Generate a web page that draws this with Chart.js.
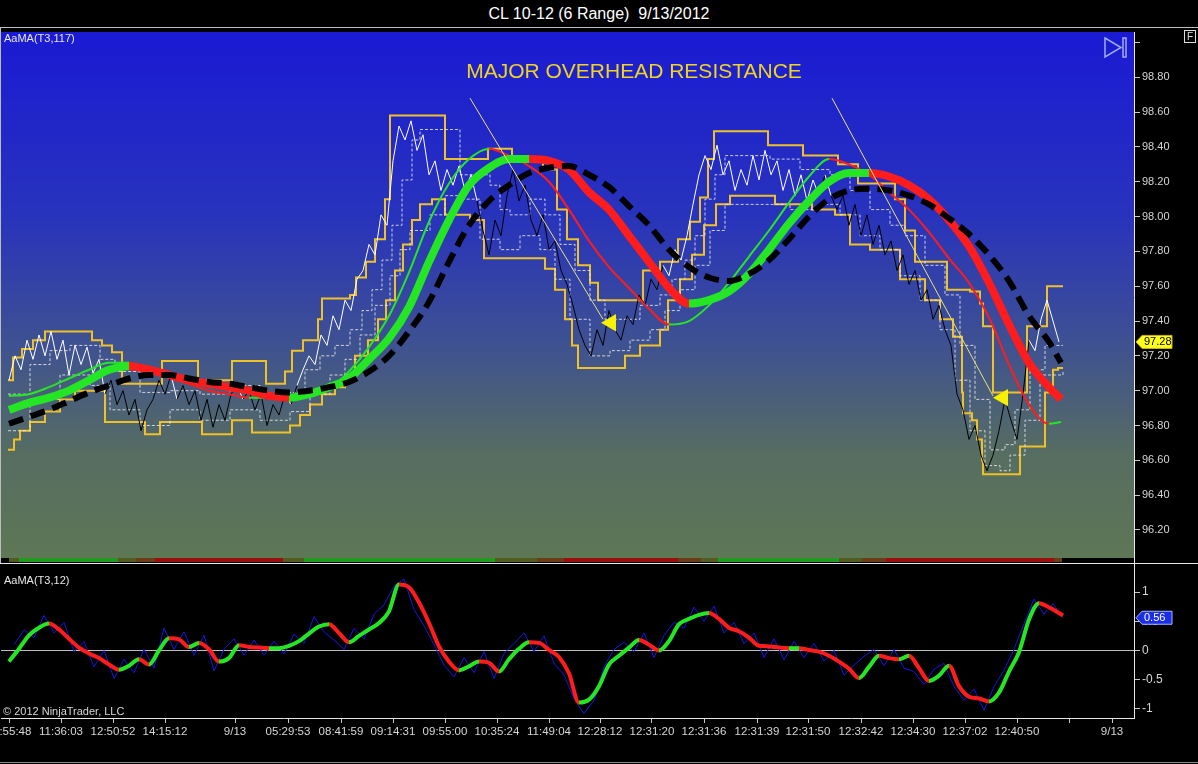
<!DOCTYPE html>
<html>
<head>
<meta charset="utf-8">
<script src="https://cdn.jsdelivr.net/npm/chart.js@4.4.1/dist/chart.umd.min.js"></script>
<style>
html, body { margin: 0; padding: 0; background: #000; overflow: hidden; }
body { width: 1198px; height: 764px; position: relative; font-family: "Liberation Sans", Arial, sans-serif; }
#title { position: absolute; left: 0; top: 0; width: 1198px; height: 27px; line-height: 27px; text-align: center; color: #fff; font-size: 16px; }
.hl { position: absolute; left: 0; width: 1198px; height: 1px; }
canvas { position: absolute; left: 0; }
#fbox { position: absolute; left: 1184px; top: 30px; width: 10px; height: 11px; border: 1px solid #ddd; color: #ddd; font-size: 10px; line-height: 11px; text-align: center; }
#lborder { position: absolute; left: 0; top: 28px; width: 1px; height: 535px; background: #bdbdbd; }
</style>
</head>
<body>
<div id="title">CL 10-12 (6 Range)&nbsp; 9/13/2012</div>
<div class="hl" style="top:27px;background:#bdbdbd"></div>
<canvas id="main" width="1198" height="535" style="top:28px"></canvas>
<div class="hl" style="top:563px;background:#e6e6e6"></div>
<canvas id="osc" width="1198" height="198" style="top:564px"></canvas>
<div class="hl" style="top:762px;background:#8a8a8a"></div>
<div id="lborder"></div>
<div id="fbox">F</div>
<script>
// x is the bar number counted from the left edge of the chart
var xMax = 1133;

var timeTickBars = [8, 60, 112, 164, 234, 287, 340, 392, 444, 496, 548, 599, 651, 703, 756, 807, 860, 912, 964, 1016, 1068, 1111];
var timeTickLabels = ["10:55:48", "11:36:03", "12:50:52", "14:15:12", "9/13", "05:29:53", "08:41:59", "09:14:31", "09:55:00",
    "10:35:24", "11:49:04", "12:28:12", "12:31:20", "12:31:36", "12:31:39", "12:31:50", "12:32:42", "12:34:30",
    "12:37:02", "12:40:50", "", "9/13"];

var priceTicks = [96.2, 96.4, 96.6, 96.8, 97.0, 97.2, 97.4, 97.6, 97.8, 98.0, 98.2, 98.4, 98.6, 98.8, 99.0];
var oscTicks = [-1, -0.5, 0, 0.5, 1];

// closes, one every 6 bars starting at bar 8
var priceStart = 8, priceStep = 6;
var priceClose = [
    97.06, 97.20, 97.12, 97.29, 97.18, 97.32, 97.20, 97.34, 97.18, 97.29, 97.09, 97.26, 97.15, 97.25, 97.10, 97.18,
    96.98, 97.06, 96.92, 97.00, 96.86, 96.95, 96.77, 96.89, 96.95, 97.06, 96.98, 97.09, 96.95, 97.03, 96.92, 97.00,
    96.83, 96.95, 96.79, 96.92, 96.83, 96.98, 97.03, 96.95, 97.00, 96.89, 96.98, 96.80, 96.92, 96.86, 96.98, 96.92, 97.03,
    97.12, 97.20, 97.15, 97.32, 97.26, 97.43, 97.35, 97.52, 97.46, 97.64, 97.69, 97.84, 97.78, 98.01, 97.95, 98.32,
    98.52, 98.44, 98.55, 98.38, 98.47, 98.24, 98.32, 98.15, 98.27, 98.18, 98.29, 98.15, 98.24, 98.09,
    97.92, 97.78, 97.98, 97.89, 98.12, 98.27, 98.09, 98.18, 97.98, 97.89, 98.01, 97.81, 97.86, 97.69, 97.61, 97.49,
    97.35, 97.26, 97.20, 97.35, 97.26, 97.46, 97.35, 97.29, 97.43, 97.38, 97.55, 97.49, 97.64, 97.58, 97.72,
    97.66, 97.81, 97.75, 97.89, 98.07, 98.24, 98.35, 98.27, 98.41, 98.24, 98.32, 98.15, 98.27, 98.18, 98.35, 98.21,
    98.38, 98.24, 98.32, 98.15, 98.27, 98.12, 98.24, 98.09, 98.21, 98.12, 98.24, 98.12,
    98.04, 98.12, 97.95, 98.07, 97.89, 98.01, 97.84, 97.95, 97.78, 97.86, 97.69, 97.78, 97.61, 97.69, 97.52, 97.58,
    97.41, 97.49, 97.35, 97.26, 96.98, 96.89, 96.72, 96.80, 96.63, 96.54, 96.63, 96.77, 96.95, 96.83, 96.72, 96.98, 97.29,
    97.23, 97.41, 97.52, 97.40, 97.28
];

// channel (stepped)
var upperBars = [7, 12, 21, 32, 44, 91, 101, 111, 121, 161, 197, 231, 265, 284, 291, 302, 317, 321, 349, 355,
    365, 374, 384, 389, 444, 487, 511, 542, 556, 566, 577, 589, 597, 642, 659, 677, 689, 699, 707, 713,
    767, 802, 837, 857, 894, 904, 914, 946, 969, 979, 982, 992, 1026, 1046, 1062];
var upperVals = [97.06, 97.19, 97.24, 97.29, 97.34, 97.29, 97.26, 97.22, 97.04, 97.17, 97.06, 97.17, 97.04, 97.11, 97.23, 97.29, 97.41, 97.53, 97.55, 97.65,
    97.74, 97.87, 98.10, 98.58, 98.33, 98.39, 98.34, 98.27, 98.04, 97.87, 97.72, 97.62, 97.52, 97.69, 97.74, 97.87, 97.97, 98.11, 98.33, 98.49,
    98.41, 98.35, 98.30, 98.19, 98.10, 97.92, 97.74, 97.58, 97.57, 97.50, 97.37, 96.99, 97.37, 97.60, 97.60];
var lowerBars = [7, 13, 19, 29, 44, 59, 74, 104, 144, 159, 201, 231, 251, 289, 299, 309, 321, 334, 344, 354,
    367, 377, 385, 394, 402, 411, 419, 431, 444, 469, 483, 544, 554, 564, 571, 577, 624, 639, 659, 667,
    679, 691, 703, 715, 729, 774, 811, 834, 849, 869, 899, 914, 924, 939, 952, 961, 962, 971, 976, 981,
    982, 1019, 1044, 1052, 1057, 1062];
var lowerVals = [96.66, 96.72, 96.77, 96.82, 96.88, 96.95, 97.00, 96.82, 96.75, 96.82, 96.75, 96.83, 96.76, 96.80, 96.86, 96.92, 96.98, 97.02, 97.09, 97.20,
    97.29, 97.41, 97.52, 97.69, 97.84, 97.98, 98.07, 98.10, 98.01, 97.98, 97.76, 97.70, 97.58, 97.41, 97.26, 97.13, 97.20, 97.26, 97.35, 97.52,
    97.64, 97.78, 97.95, 98.07, 98.12, 98.07, 98.04, 98.01, 97.84, 97.81, 97.64, 97.64, 97.52, 97.41, 97.31, 96.99, 96.87, 96.83, 96.72, 96.60,
    96.52, 96.68, 96.99, 97.12, 97.13, 97.13];
var innerHiBars = [7, 29, 49, 69, 99, 114, 139, 169, 199, 229, 259, 289, 304, 319, 334, 349, 361, 371, 381, 391,
    401, 411, 419, 449, 459, 489, 499, 509, 529, 544, 559, 574, 589, 604, 639, 659, 671, 684, 694, 704,
    714, 724, 769, 799, 829, 849, 869, 889, 904, 924, 944, 959, 974, 989, 1004, 1014, 1029, 1044, 1062];
var innerHiVals = [96.98, 97.15, 97.23, 97.26, 97.18, 97.11, 96.99, 97.00, 96.98, 97.03, 96.98, 96.99, 97.12, 97.20, 97.26, 97.35, 97.46, 97.58, 97.75, 97.95,
    98.21, 98.44, 98.50, 98.50, 98.24, 98.18, 98.04, 98.01, 98.10, 98.01, 97.84, 97.69, 97.52, 97.41, 97.49, 97.55, 97.64, 97.75, 97.89, 98.10,
    98.24, 98.35, 98.33, 98.27, 98.24, 98.15, 98.04, 97.95, 97.89, 97.72, 97.55, 97.26, 96.95, 96.66, 96.69, 96.89, 97.12, 97.26, 97.26];
var innerLoBars = [7, 29, 59, 89, 109, 139, 169, 199, 229, 259, 289, 309, 329, 344, 359, 374, 389, 399, 409, 429,
    444, 459, 479, 499, 519, 539, 554, 569, 589, 609, 629, 649, 664, 679, 694, 709, 724, 759, 789, 819,
    839, 859, 879, 899, 919, 939, 954, 969, 984, 999, 1009, 1024, 1039, 1062];
var innerLoVals = [96.77, 96.95, 97.09, 97.03, 96.89, 96.80, 96.89, 96.83, 96.89, 96.83, 96.88, 96.98, 97.09, 97.18, 97.32, 97.49, 97.66, 97.81, 97.92, 98.01,
    98.12, 98.10, 97.87, 97.81, 97.89, 97.81, 97.64, 97.41, 97.20, 97.23, 97.29, 97.35, 97.46, 97.58, 97.72, 97.92, 98.07, 98.07, 98.04, 98.07,
    98.01, 97.89, 97.81, 97.66, 97.52, 97.35, 97.06, 96.77, 96.57, 96.54, 96.63, 96.83, 97.09, 97.11];

// moving averages
var maBars = [8, 28, 48, 68, 88, 108, 128, 148, 168, 188, 208, 228, 248, 268, 288, 308, 328, 348, 368, 388,
    408, 428, 448, 468, 488, 508, 528, 548, 568, 588, 608, 628, 648, 668, 688, 708, 728, 748, 768, 788,
    808, 828, 848, 868, 888, 908, 928, 948, 968, 988, 1008, 1028, 1048, 1060];
var maSlow117 = [96.89, 96.93, 96.96, 97.00, 97.06, 97.12, 97.14, 97.12, 97.09, 97.06, 97.04, 97.02, 97.00, 96.97, 96.96, 96.98, 97.02, 97.07, 97.18, 97.30,
    97.48, 97.74, 97.98, 98.18, 98.28, 98.33, 98.33, 98.32, 98.27, 98.14, 98.04, 97.89, 97.74, 97.59, 97.50, 97.52, 97.57, 97.67, 97.81, 97.96,
    98.09, 98.20, 98.25, 98.25, 98.23, 98.18, 98.10, 97.98, 97.83, 97.62, 97.38, 97.16, 97.02, 96.95];
var maFast = [96.97, 96.98, 97.02, 97.07, 97.12, 97.16, 97.16, 97.12, 97.08, 97.04, 97.00, 96.98, 96.96, 96.96, 96.96, 96.98, 97.01, 97.11, 97.25, 97.43,
    97.68, 97.97, 98.19, 98.33, 98.39, 98.35, 98.29, 98.20, 98.04, 97.86, 97.71, 97.59, 97.47, 97.38, 97.40, 97.49, 97.62, 97.77, 97.92, 98.08,
    98.23, 98.33, 98.30, 98.24, 98.14, 98.04, 97.91, 97.76, 97.62, 97.42, 97.15, 96.92, 96.81, 96.82];
var maLag = [96.81, 96.85, 96.89, 96.94, 96.99, 97.03, 97.07, 97.09, 97.09, 97.07, 97.05, 97.04, 97.02, 97.00, 96.99, 97.00, 97.02, 97.05, 97.11, 97.20,
    97.34, 97.51, 97.74, 97.95, 98.09, 98.18, 98.25, 98.28, 98.29, 98.24, 98.17, 98.06, 97.95, 97.81, 97.71, 97.65, 97.63, 97.67, 97.75, 97.87,
    98.00, 98.10, 98.15, 98.16, 98.15, 98.12, 98.07, 97.99, 97.90, 97.78, 97.63, 97.43, 97.28, 97.16];

// hand drawn trend lines and arrows
var trendA = { bars: [469, 602], vals: [98.68, 97.41] };
var trendB = { bars: [831, 992], vals: [98.68, 96.97] };
var arrowBars = [610, 1002];
var arrowVals = [97.39, 96.96];

// trend strip under the price panel
var stripBars = [0, 8, 18, 117, 135, 154, 282, 303, 494, 536, 563, 677, 700, 717, 838, 861, 885, 1053, 1061];
var stripState = ['none', 'flat', 'up', 'flat', 'weak', 'down', 'flat', 'up', 'flat', 'weak', 'down', 'weak', 'flat', 'up', 'flat', 'weak', 'down', 'weak', 'none'];

// AaMA(T3,12) oscillator
var oscBars = [8, 18, 28, 38, 48, 58, 68, 78, 88, 98, 108, 118, 128, 138, 148, 158, 168, 178, 188, 198,
    208, 218, 228, 238, 248, 258, 268, 278, 288, 298, 308, 318, 328, 338, 348, 358, 368, 378, 388, 398,
    408, 418, 428, 438, 448, 458, 468, 478, 488, 498, 508, 518, 528, 538, 548, 558, 568, 578, 588, 598,
    608, 618, 628, 638, 648, 658, 668, 678, 688, 698, 708, 718, 728, 738, 748, 758, 768, 778, 788, 798,
    808, 818, 828, 838, 848, 858, 868, 878, 888, 898, 908, 918, 928, 938, 948, 958, 968, 978, 988, 998,
    1008, 1018, 1028, 1038, 1048, 1058, 1062];
var oscSmooth = [-0.19, 0.03, 0.26, 0.39, 0.46, 0.36, 0.20, 0.05, -0.05, -0.13,
    -0.24, -0.33, -0.26, -0.15, -0.24, 0.00, 0.21, 0.19, 0.06, 0.13,
    0.02, -0.19, -0.13, 0.09, 0.06, 0.05, 0.04, 0.04, 0.08, 0.16,
    0.29, 0.41, 0.45, 0.30, 0.14, 0.25, 0.36, 0.47, 0.67, 1.13,
    1.08, 0.82, 0.47, 0.07, -0.19, -0.34, -0.27, -0.19, -0.21, -0.36,
    -0.15, 0.03, 0.14, 0.13, 0.01, -0.11, -0.39, -0.89, -0.84, -0.61,
    -0.24, -0.09, 0.05, 0.18, 0.10, 0.00, 0.16, 0.45, 0.54, 0.61,
    0.64, 0.54, 0.39, 0.33, 0.22, 0.08, 0.07, 0.05, 0.04, 0.04,
    0.01, -0.02, -0.09, -0.19, -0.31, -0.47, -0.28, -0.09, -0.13, -0.15,
    -0.09, -0.30, -0.52, -0.43, -0.26, -0.61, -0.79, -0.82, -0.87, -0.72,
    -0.36, -0.03, 0.53, 0.81, 0.74, 0.64, 0.60];
var oscRawBars = [13, 23, 33, 43, 53, 63, 73, 83, 93, 103, 113, 123, 133, 143, 153, 163, 173, 183, 193, 203,
    213, 223, 233, 243, 253, 263, 273, 283, 293, 303, 313, 323, 333, 343, 353, 363, 373, 383, 393, 403,
    413, 423, 433, 443, 453, 463, 473, 483, 493, 503, 513, 523, 533, 543, 553, 563, 573, 583, 593, 603,
    613, 623, 633, 643, 653, 663, 673, 683, 693, 703, 713, 723, 733, 743, 753, 763, 773, 783, 793, 803,
    813, 823, 833, 843, 853, 863, 873, 883, 893, 903, 913, 923, 933, 943, 953, 963, 973, 983, 993, 1003,
    1013, 1023, 1033, 1043, 1052, 1062];
var oscRaw = [0.10, 0.35, 0.22, 0.60, 0.30, 0.48, -0.02, 0.15, -0.28, 0.00,
    -0.48, -0.15, -0.38, 0.02, -0.30, 0.38, 0.02, 0.32, -0.08, 0.26,
    -0.35, 0.02, 0.20, -0.08, 0.18, -0.08, 0.16, -0.06, 0.28, 0.12,
    0.58, 0.32, 0.18, 0.02, 0.38, 0.20, 0.62, 0.78, 1.10, 1.22,
    0.70, 0.42, 0.10, -0.25, -0.45, -0.12, -0.38, -0.02, -0.48, -0.05,
    0.12, 0.30, -0.02, 0.25, -0.22, -0.42, -0.82, -1.08, -0.85, -0.28,
    0.02, 0.14, -0.02, 0.30, -0.12, 0.26, 0.48, 0.38, 0.74, 0.50,
    0.76, 0.30, 0.48, 0.12, 0.30, -0.12, 0.20, -0.16, 0.16, -0.12,
    0.12, -0.18, 0.00, -0.42, -0.25, -0.10, 0.02, -0.26, 0.02, -0.30,
    -0.36, -0.58, -0.32, -0.22, -0.62, -0.85, -0.66, -1.02, -0.62, -0.34,
    0.02, 0.46, 0.88, 0.62, 0.80, 0.56];

var FONT = '"Liberation Sans", Arial, sans-serif';
Chart.defaults.font.family = FONT;

var UP = '#25e625', DOWN = '#ff1c1c';
var stripColors = { none: '#000000', flat: '#525c1e', weak: '#6c3c14', up: '#1f9c1f', down: '#9a0e0e' };

function pts(bars, vals) {
    return bars.map(function (b, i) { return { x: b, y: vals[i] }; });
}
function slopeColor(ctx) {
    return ctx.p1.parsed.y >= ctx.p0.parsed.y ? UP : DOWN;
}
function maAt(bar) {
    for (var i = 1; i < maBars.length; i++) {
        if (bar <= maBars[i]) {
            var t = (bar - maBars[i - 1]) / (maBars[i] - maBars[i - 1]);
            return maSlow117[i - 1] + t * (maSlow117[i] - maSlow117[i - 1]);
        }
    }
    return maSlow117[maSlow117.length - 1];
}
function noPad(s) {
    s.paddingTop = 0; s.paddingBottom = 0; s.paddingLeft = 0; s.paddingRight = 0;
}

var priceBars = priceClose.map(function (v, i) { return priceStart + i * priceStep; });
// close above the AaMA(117) paints white, below paints black
var priceAbove = priceClose.map(function (v, i) { return v > maAt(priceBars[i]); });

function drawTag(ctx, x, y, text, fill, stroke, color) {
    ctx.beginPath();
    ctx.moveTo(x, y);
    ctx.lineTo(x + 6, y - 6.5);
    ctx.lineTo(x + 36, y - 6.5);
    ctx.lineTo(x + 36, y + 6.5);
    ctx.lineTo(x + 6, y + 6.5);
    ctx.closePath();
    ctx.fillStyle = fill;
    ctx.fill();
    ctx.strokeStyle = stroke;
    ctx.lineWidth = 1;
    ctx.stroke();
    ctx.fillStyle = color;
    ctx.font = '11px ' + FONT;
    ctx.textAlign = 'left';
    ctx.textBaseline = 'middle';
    ctx.fillText(text, x + 8, y + 0.5);
}

var mainDecor = {
    id: 'mainDecor',
    beforeDraw: function (chart) {
        var a = chart.chartArea, ctx = chart.ctx, xs = chart.scales.x;
        var g = ctx.createLinearGradient(0, a.top, 0, a.bottom - 4);
        g.addColorStop(0, '#1a1ad4');
        g.addColorStop(0.35, '#2833bc');
        g.addColorStop(0.6, '#3f5290');
        g.addColorStop(0.8, '#566d62');
        g.addColorStop(1, '#5e7755');
        ctx.save();
        ctx.fillStyle = g;
        ctx.fillRect(a.left, a.top, a.right - a.left, a.bottom - 4 - a.top);
        for (var i = 0; i < stripBars.length; i++) {
            var x0 = xs.getPixelForValue(stripBars[i]);
            var x1 = i + 1 < stripBars.length ? xs.getPixelForValue(stripBars[i + 1]) : a.right;
            ctx.fillStyle = stripColors[stripState[i]];
            ctx.fillRect(x0, a.bottom - 4, x1 - x0, 4);
        }
        ctx.restore();
    },
    afterDraw: function (chart) {
        var a = chart.chartArea, ctx = chart.ctx;
        ctx.save();
        ctx.font = '11px ' + FONT;
        ctx.fillStyle = '#e6e6e6';
        ctx.textAlign = 'left';
        ctx.textBaseline = 'middle';
        ctx.fillText('AaMA(T3,117)', 4, 11);
        ctx.font = '21px ' + FONT;
        ctx.fillStyle = '#f0d41e';
        ctx.textAlign = 'center';
        ctx.fillText('MAJOR OVERHEAD RESISTANCE', 634, 44);
        ctx.strokeStyle = '#a3acf0';
        ctx.lineWidth = 1.5;
        ctx.beginPath();
        ctx.moveTo(a.right - 29, 10);
        ctx.lineTo(a.right - 13, 19.5);
        ctx.lineTo(a.right - 29, 29);
        ctx.closePath();
        ctx.stroke();
        ctx.strokeRect(a.right - 11, 10, 3, 19);
        var last = priceClose[priceClose.length - 1];
        drawTag(ctx, a.right + 2, chart.scales.y.getPixelForValue(last), last.toFixed(2), '#ffff1e', '#c8b400', '#000');
        ctx.restore();
    }
};

var oscDecor = {
    id: 'oscDecor',
    afterDraw: function (chart) {
        var a = chart.chartArea, ctx = chart.ctx;
        ctx.save();
        ctx.font = '11px ' + FONT;
        ctx.fillStyle = '#e6e6e6';
        ctx.textAlign = 'left';
        ctx.textBaseline = 'middle';
        ctx.fillText('AaMA(T3,12)', 4, 17);
        ctx.fillStyle = '#d8d8d8';
        ctx.fillText('\u00a9 2012 NinjaTrader, LLC', 3, 148);
        var last = oscRaw[oscRaw.length - 1];
        drawTag(ctx, a.right + 2, chart.scales.y.getPixelForValue(last), last.toFixed(2), '#1a2ee6', '#aab4ff', '#fff');
        ctx.restore();
    }
};

new Chart(document.getElementById('main'), {
    type: 'line',
    data: {
        datasets: [
            { data: pts(upperBars, upperVals), stepped: true, borderColor: '#efc128', borderWidth: 2, order: 10 },
            { data: pts(lowerBars, lowerVals), stepped: true, borderColor: '#efc128', borderWidth: 2, order: 10 },
            { data: pts(innerHiBars, innerHiVals), stepped: true, borderColor: 'rgba(235,235,235,0.85)', borderWidth: 1, borderDash: [3, 2], order: 9 },
            { data: pts(innerLoBars, innerLoVals), stepped: true, borderColor: 'rgba(235,235,235,0.85)', borderWidth: 1, borderDash: [3, 2], order: 9 },
            { data: pts(priceBars, priceClose), borderWidth: 1, borderColor: '#fff', order: 8,
              segment: { borderColor: function (ctx) { return priceAbove[ctx.p0DataIndex] ? '#ffffff' : '#000000'; } } },
            { data: pts(maBars, maFast), borderWidth: 2, cubicInterpolationMode: 'monotone', order: 7, borderColor: UP,
              segment: { borderColor: slopeColor } },
            { data: pts(maBars, maSlow117), borderWidth: 8, cubicInterpolationMode: 'monotone', order: 6, borderColor: UP,
              borderJoinStyle: 'round', segment: { borderColor: slopeColor } },
            { data: pts(maBars, maLag), borderWidth: 6, cubicInterpolationMode: 'monotone', order: 5, borderColor: '#000',
              borderDash: [15, 8] },
            { data: pts(trendA.bars, trendA.vals), borderWidth: 1, borderColor: '#e8e27a', order: 3 },
            { data: pts(trendB.bars, trendB.vals), borderWidth: 1, borderColor: '#e8e27a', order: 3 },
            { data: pts(arrowBars, arrowVals), showLine: false, pointStyle: 'triangle', rotation: 270, pointRadius: 10,
              backgroundColor: '#f7f000', borderWidth: 0, order: 2 }
        ]
    },
    options: {
        responsive: false,
        animation: false,
        events: [],
        layout: { autoPadding: false, padding: { left: 1, top: 4, bottom: 1, right: 0 } },
        plugins: { legend: { display: false }, tooltip: { enabled: false } },
        elements: { point: { radius: 0 } },
        scales: {
            x: { type: 'linear', min: 0, max: xMax, display: false },
            y: {
                position: 'right', min: 96.016, max: 99.06,
                afterFit: function (s) { s.width = 64; noPad(s); },
                afterBuildTicks: function (s) { s.ticks = priceTicks.map(function (v) { return { value: v }; }); },
                ticks: { color: '#d6d6d6', font: { size: 11 }, padding: 2,
                         callback: function (v) { return v > 98.9 ? '' : v.toFixed(2); } },
                grid: { drawOnChartArea: false, tickLength: 6, color: '#c8c8c8' },
                border: { color: '#e6e6e6' }
            }
        }
    },
    plugins: [mainDecor]
});

new Chart(document.getElementById('osc'), {
    type: 'line',
    data: {
        datasets: [
            { data: pts(oscBars, oscSmooth), borderWidth: 4, cubicInterpolationMode: 'monotone', borderColor: UP,
              borderJoinStyle: 'round', segment: { borderColor: slopeColor }, order: 1 },
            { data: pts(oscRawBars, oscRaw), borderWidth: 1, borderColor: '#1616e6', order: 2 }
        ]
    },
    options: {
        responsive: false,
        animation: false,
        events: [],
        layout: { autoPadding: false, padding: { left: 1, top: 0, bottom: 0, right: 0 } },
        plugins: { legend: { display: false }, tooltip: { enabled: false } },
        elements: { point: { radius: 0 } },
        scales: {
            x: {
                type: 'linear', min: 0, max: xMax,
                afterFit: function (s) { s.height = 44; noPad(s); },
                afterBuildTicks: function (s) { s.ticks = timeTickBars.map(function (v) { return { value: v }; }); },
                ticks: { autoSkip: false, maxRotation: 0, minRotation: 0, color: '#d6d6d6', font: { size: 11.5 }, padding: 2,
                         callback: function (v, i) { return timeTickLabels[i]; } },
                grid: { drawOnChartArea: false, tickLength: 5, color: '#c8c8c8' },
                border: { color: '#e6e6e6' }
            },
            y: {
                position: 'right', min: -1.154, max: 1.479,
                afterFit: function (s) { s.width = 64; noPad(s); },
                afterBuildTicks: function (s) { s.ticks = oscTicks.map(function (v) { return { value: v }; }); },
                ticks: { color: '#d6d6d6', font: { size: 12 }, padding: 2, callback: function (v) { return String(v); } },
                grid: { tickLength: 6, tickColor: '#c8c8c8',
                        color: function (c) { return c.tick && c.tick.value === 0 ? '#bdbdbd' : 'rgba(0,0,0,0)'; } },
                border: { color: '#e6e6e6' }
            }
        }
    },
    plugins: [oscDecor]
});
</script>
</body>
</html>
